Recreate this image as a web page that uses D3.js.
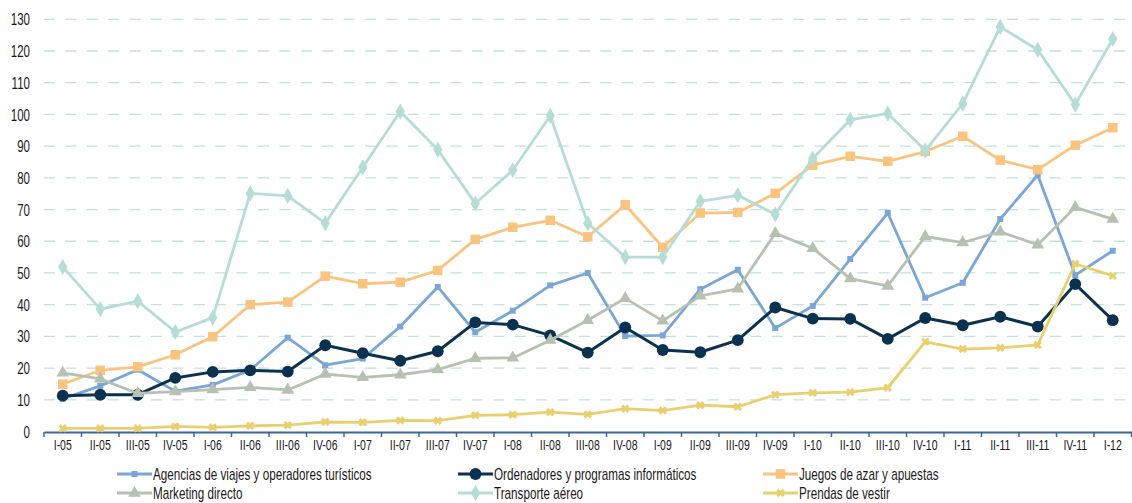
<!DOCTYPE html>
<html><head><meta charset="utf-8">
<script src="https://cdn.jsdelivr.net/npm/d3@7"></script>
<style>
html,body{margin:0;padding:0;background:#fff;}
svg text{font-family:"Liberation Sans",Arial,sans-serif;fill:#1a1a1a;}
</style></head>
<body><svg id="c" width="1132" height="503"></svg>
<script>
const categories = ["I-05","II-05","III-05","IV-05","I-06","II-06","III-06","IV-06","I-07","II-07","III-07","IV-07","I-08","II-08","III-08","IV-08","I-09","II-09","III-09","IV-09","I-10","II-10","III-10","IV-10","I-11","II-11","III-11","IV-11","I-12"];
const yTicks = [0,10,20,30,40,50,60,70,80,90,100,110,120,130];

const agencias    = [10.3,14.4,19.5,12.7,14.7,19.4,29.6,20.9,23.0,33.1,45.6,31.3,38.1,46.1,50.0,30.1,30.3,44.9,51.0,32.6,39.6,54.4,68.9,42.2,46.9,67.0,80.9,49.3,57.0];
const ordenadores = [11.3,11.6,11.6,16.9,18.8,19.3,18.9,27.2,24.7,22.3,25.3,34.4,33.7,30.3,24.9,32.8,25.7,25.0,28.8,39.1,35.6,35.5,29.2,35.8,33.5,36.2,33.1,46.5,35.1];
const juegos      = [14.9,19.3,20.4,24.2,29.9,40.0,40.8,49.0,46.6,47.1,50.8,60.6,64.4,66.6,61.4,71.5,58.1,68.9,69.1,75.1,84.0,86.8,85.2,88.3,93.1,85.6,82.6,90.3,95.8];
const marketing   = [18.5,16.6,12.0,12.6,13.2,13.9,13.1,18.1,17.1,17.9,19.5,23.1,23.2,28.8,35.1,42.0,34.9,42.8,45.0,62.5,57.8,48.2,45.9,61.5,59.6,63.0,58.9,70.7,67.0];
const transporte  = [51.9,38.6,41.1,31.4,35.9,75.1,74.3,65.7,83.3,100.9,88.9,71.9,82.4,99.6,65.7,55.0,55.0,72.6,74.5,68.5,86.1,98.3,100.3,88.6,103.4,127.6,120.4,103.1,123.8];
const prendas     = [1.0,1.0,1.0,1.6,1.3,1.8,2.0,3.0,2.9,3.5,3.4,5.1,5.3,6.1,5.4,7.2,6.6,8.3,7.8,11.6,12.2,12.4,13.8,28.3,26.0,26.4,27.3,52.9,49.1];

const seriesNames = ["Agencias de viajes y operadores turísticos","Ordenadores y programas informáticos","Juegos de azar y apuestas","Marketing directo","Transporte aéreo","Prendas de vestir"];
const seriesValues = [agencias, ordenadores, juegos, marketing, transporte, prendas];
const seriesColors = ["#7aa6d6","#0b3150","#f9c47f","#b6c1b2","#b5ddd5","#e8d06f"];
const seriesMarkers = ["square","circle","bigsquare","triangle","diamond","star"];
const markerSizes = [36,110,90,70,75,45];

const svg = d3.select("#c");
const x = d3.scaleBand().domain(categories).range([44,1131.5]);
const y = d3.scaleLinear().domain([0,130]).range([431.5,19.3]);

// gridlines
svg.append("g").selectAll("line").data(yTicks.filter(d=>d>0)).join("line")
  .attr("x1",44).attr("x2",1132).attr("y1",d=>y(d)).attr("y2",d=>y(d))
  .attr("stroke","#bfe2db").attr("stroke-width",1.3).attr("stroke-dasharray","11,10.4");

// y labels
svg.append("g").selectAll("g").data(yTicks).join("g")
  .attr("transform",d=>`translate(30,${y(d)}) scale(0.68,1)`)
  .append("text").attr("dy","0.36em").attr("text-anchor","end")
  .attr("font-size",17).text(d=>d);

// x axis
const xa = svg.append("g").attr("transform","translate(0,432)")
  .call(d3.axisBottom(x).tickSize(0).tickPadding(7));
xa.select(".domain").attr("stroke","#3c6698").attr("stroke-width",2);
xa.selectAll("text").attr("font-size",15).attr("fill","#1a1a1a").attr("transform","scale(0.7,1)");
const bounds = categories.map(c=>x(c)).concat([x(categories[categories.length-1])+x.bandwidth()]);
xa.append("g").selectAll("line").data(bounds).join("line")
  .attr("x1",d=>d).attr("x2",d=>d).attr("y1",0).attr("y2",5)
  .attr("stroke","#3c6698").attr("stroke-width",1.5);

function symbolFor(m){
  return {square:d3.symbolSquare,circle:d3.symbolCircle,bigsquare:d3.symbolSquare,triangle:d3.symbolTriangle,diamond:d3.symbolDiamond,star:d3.symbolCross}[m];
}
const cx = c => x(c)+x.bandwidth()/2;
const line = d3.line().x((d,i)=>cx(categories[i])).y(d=>y(d));

seriesValues.forEach((vals,si)=>{
  const g = svg.append("g");
  g.append("path").datum(vals).attr("d",line).attr("fill","none")
    .attr("stroke",seriesColors[si]).attr("stroke-width",si===1?3:2.8).attr("stroke-linejoin","round");
  const sym = d3.symbol().type(symbolFor(seriesMarkers[si])).size(markerSizes[si]);
  g.selectAll("path.m").data(vals).join("path").attr("class","m")
    .attr("transform",(d,i)=>`translate(${cx(categories[i])},${y(d)})`+(seriesMarkers[si]==="star"?" rotate(45)":""))
    .attr("d",sym).attr("fill",seriesColors[si]);
});

// legend
const legX = [117,458,763], legY = [474,493];
seriesNames.forEach((n,i)=>{
  const lx = legX[i%3], ly = legY[Math.floor(i/3)];
  const g = svg.append("g").attr("transform",`translate(${lx},${ly})`);
  g.append("line").attr("x1",0).attr("x2",35).attr("y1",0).attr("y2",0)
    .attr("stroke",seriesColors[i]).attr("stroke-width",2.8);
  g.append("path").attr("transform","translate(17.5,0)"+(seriesMarkers[i]==="star"?" rotate(45)":""))
    .attr("d",d3.symbol().type(symbolFor(seriesMarkers[i])).size(markerSizes[i])()).attr("fill",seriesColors[i]);
  g.append("g").attr("transform","translate(36,0) scale(0.73,1)")
    .append("text").attr("dy","0.36em").attr("font-size",16).text(n);
});
</script></body></html>
